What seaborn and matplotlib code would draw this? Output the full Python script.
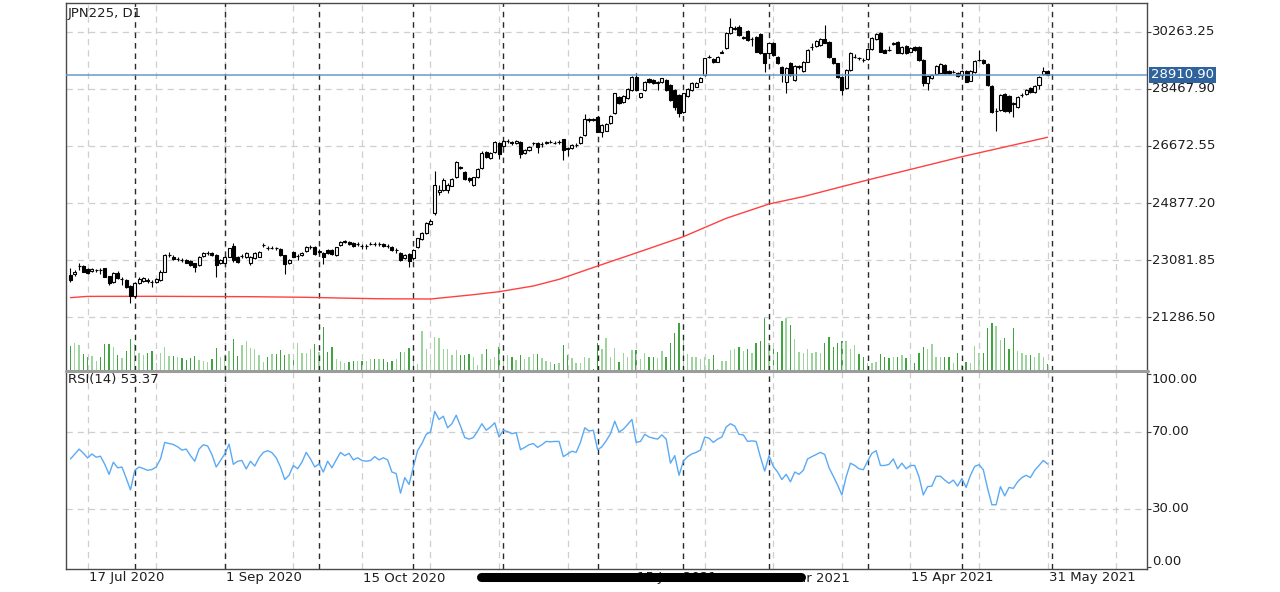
import matplotlib
matplotlib.use("Agg")
import matplotlib.pyplot as plt
import matplotlib.transforms as mtransforms
from matplotlib.lines import Line2D
import numpy as np
import pandas as pd
import seaborn as sns

# ---------------- data ----------------
symbol_title = "JPN225, D1"
rsi_title = "RSI(14) 53.37"
last_price = 28910.90

open_ = [22616,22637,22900,22900,22795,22742,22770,22775,22826,22585,
         22407,22690,22480,22460,22270,21957,22376,22438,22450,22410,
         22410,22460,22721,23245,23193,23110,23100,23088,23067,22985,
         22930,23214,23300,23297,23245,22983,23004,23193,23528,23193,
         23210,23193,23000,23140,23193,23560,23460,23455,23460,23420,
         23245,22983,23350,23210,23245,23380,23500,23496,23350,23300,
         23400,23402,23245,23560,23660,23660,23620,23580,23530,23530,
         23590,23600,23590,23590,23530,23510,23400,23298,23140,23270,
         23140,23500,23750,23926,24220,24555,25240,25290,25300,25420,
         25690,26010,25864,25660,25445,25690,25970,26490,26280,26470,
         26775,26670,26830,26790,26760,26810,26440,26545,26750,26750,
         26720,26750,26800,26780,26790,26880,26600,26600,26700,26754,
         27016,27500,27510,27571,27121,27152,27383,27697,28200,28064,
         28168,28430,28849,28200,28430,28765,28744,28661,28692,28744,
         28587,28430,28273,27749,28242,28430,28535,28692,28902,29470,
         29394,29320,29603,29740,30232,30360,30420,30054,30295,30022,
         30106,30190,29582,29603,29897,29478,29163,28692,29289,28744,
         29160,29038,29320,29770,29813,29834,30022,29950,29425,29268,
         28849,28482,29058,29470,29430,29380,29394,29708,30022,30232,
         29687,29690,29890,29950,29582,29813,29635,29770,29792,29373,
         28640,28797,28933,28975,29215,29038,29000,28975,28900,29038,
         28722,29006,29370,29373,29247,28556,27760,27802,28304,28242,
         28010,27907,28270,28304,28483,28378,28587,28920,29027]
high_ = [22826,22780,23004,22930,22830,22830,22820,22830,22850,22600,
         22700,22750,22560,22480,22300,22400,22540,22560,22520,22450,
         22520,22760,23280,23330,23250,23180,23160,23120,23100,23000,
         23200,23340,23380,23330,23270,23120,23200,23480,23612,23220,
         23280,23330,23220,23330,23380,23620,23520,23520,23510,23450,
         23260,23120,23380,23270,23330,23540,23560,23520,23420,23330,
         23420,23430,23500,23700,23720,23690,23650,23650,23580,23590,
         23660,23660,23650,23620,23580,23540,23450,23330,23270,23300,
         23430,23790,23960,24280,24370,25895,25450,25650,25500,25660,
         26200,26050,25880,25690,25700,25980,26500,26520,26480,26820,
         26800,26870,26890,26840,26860,26830,26570,26660,26800,26790,
         26790,26840,26860,26830,26850,26900,26650,26730,26760,26970,
         27676,27560,27560,27600,27360,27400,27640,28350,28230,28270,
         28490,28880,28954,28350,28720,28800,28780,28720,28820,28770,
         28620,28450,28300,28350,28490,28670,28690,28830,29450,29530,
         29420,29500,29687,30240,30682,30440,30473,30140,30320,30080,
         30130,30210,29600,29950,29930,29500,29190,29140,29320,29230,
         29220,29350,29710,29897,30010,30050,30473,29970,29450,29290,
         28870,29080,29630,29550,29480,29430,29730,30080,30220,30260,
         29720,29800,29950,29970,29820,29840,29770,29800,29810,29390,
         28900,28930,29210,29280,29240,29060,29060,29000,29070,29060,
         29070,29380,29687,29400,29270,28600,27850,28300,28330,28270,
         28060,28230,28330,28460,28510,28580,28870,29140,29060]
low_ = [22407,22600,22774,22700,22640,22700,22720,22650,22540,22300,
        22380,22480,22300,22200,21726,21900,22330,22400,22380,22250,
        22380,22430,22700,23180,23080,23060,23040,22980,22900,22720,
        22900,23180,23250,23200,22564,22960,22980,23170,23035,23000,
        23160,23160,22930,23120,23170,23500,23400,23420,23400,23220,
        22650,22950,23170,23100,23220,23350,23440,23250,23280,22960,
        23270,23250,23220,23540,23610,23560,23500,23530,23420,23440,
        23550,23540,23540,23500,23450,23380,23300,23060,23110,22878,
        23100,23470,23730,23900,24180,24500,25130,25250,25200,25400,
        25670,25950,25600,25540,25400,25670,25950,26280,26260,26450,
        26250,26640,26760,26700,26730,26300,26420,26520,26700,26440,
        26650,26720,26760,26730,26740,26230,26360,26570,26650,26730,
        26990,27440,27450,27100,26964,27130,27360,27680,28000,28030,
        28140,28400,28400,28170,28400,28660,28630,28430,28660,28400,
        28090,27802,27592,27720,28220,28400,28510,28670,28880,29420,
        29290,29300,29580,29720,30200,30300,30130,30030,29980,29800,
        29610,29560,29006,29580,29500,29260,28692,28325,28870,28720,
        29100,29010,29300,29700,29790,29800,29900,29450,29240,28820,
        28273,28450,29030,29420,29370,29320,29370,29690,30000,29610,
        29580,29640,29840,29580,29560,29560,29610,29660,29350,28556,
        28430,28770,28910,28950,28930,28930,28950,28840,28870,28670,
        28700,28980,29340,29240,28560,27720,27152,27780,27750,27700,
        27592,27880,28220,28280,28350,28350,28450,28900,28890]
close_ = [22460,22721,22910,22721,22669,22795,22780,22770,22564,22355,
          22669,22512,22500,22250,21957,22355,22480,22512,22440,22400,
          22480,22721,23245,23260,23110,23120,23090,23004,22930,22878,
          23170,23297,23310,23245,22930,23088,23170,23455,23088,23035,
          23220,23297,23193,23297,23350,23570,23455,23460,23450,23245,
          22960,23088,23193,23220,23297,23507,23510,23276,23380,23190,
          23300,23276,23486,23664,23670,23590,23530,23590,23520,23540,
          23600,23590,23600,23530,23520,23402,23410,23088,23240,23060,
          23402,23769,23926,24260,24314,25445,25290,25602,25445,25630,
          26178,25990,25620,25600,25686,25950,26460,26310,26440,26785,
          26420,26840,26840,26780,26830,26420,26545,26630,26760,26650,
          26730,26810,26810,26770,26800,26545,26590,26702,26710,26943,
          27508,27510,27500,27121,27330,27362,27613,28325,28032,28242,
          28462,28849,28430,28325,28692,28692,28661,28670,28797,28430,
          28116,27907,27697,28325,28462,28640,28661,28797,29425,29478,
          29320,29478,29635,30211,30420,30368,30159,30106,30001,30030,
          29635,29582,29268,29897,29530,29289,28954,29111,28902,29200,
          29170,29320,29687,29780,29980,30022,29918,29478,29268,28849,
          28430,29058,29603,29480,29425,29375,29708,30054,30190,29635,
          29603,29687,29900,29603,29792,29582,29740,29687,29373,28640,
          28870,28902,29185,29247,28954,28954,29010,28870,29038,28692,
          29038,29352,29380,29268,28587,27749,27770,28273,27780,27780,
          28000,28200,28280,28430,28378,28556,28849,29027,28911]
volume = [25,27.7,25.7,17,14.3,15,10.3,13.7,27,27,
          24.3,16,12.7,20.3,31.7,27,17.7,16,17.7,20.3,
          7.7,18.3,24.3,15,15,13.7,12.7,11,12.7,15,
          11,10,9.3,11.7,23.3,13.7,16,20.3,31.7,15,
          26,30.3,22.7,21.7,16,9.3,14.3,17,17,21,
          16,17,15,27.7,18.5,18,21.7,27,18.7,44.3,
          18.7,24.3,11.7,10.3,7.7,9,10.3,10.3,10.3,10.3,
          11.7,11.7,11.7,11.7,9,10.3,11.7,19,19,23.3,
          11.7,7,40.3,21.7,14.3,34.3,33,21.7,22.3,15.7,
          21,15.7,15.7,17,14.3,5.7,17,22.3,12.3,13.7,
          23.7,16.3,15.7,14.3,11,15.7,12.3,14.3,17,17,
          13,9.7,9,7,8.3,26,16,12.7,7.7,8.3,
          14.3,12.7,1.7,28.3,21.7,32.7,14.3,22.7,9.3,18.3,
          14.3,21,21,11.7,17.7,13.7,14.3,12.7,20.3,13.7,
          27.7,38.3,47.7,34.3,17,14.3,14.3,11.7,14.3,11.7,
          16,1.7,10.3,10.3,21,21.7,23.7,20.3,21.7,17.7,
          27.7,30,52.7,27.7,27,19.3,50.3,52.7,46,31.7,
          19.3,17.7,21.7,18.3,19.3,17.7,27.7,34.3,24.3,28.3,
          30.3,30,21.7,26,17,14.3,8.3,7.7,9.3,17,
          14.3,12.7,13.7,14.3,16,12.7,11,8.3,17.7,24.3,
          21.7,27,14.3,14.3,14.3,14.3,8.3,17.7,6,9.3,
          7.7,25,17.7,17.7,42.7,47.7,45,31,32.7,21.7,
          42.7,20.3,18.3,16,16,13.7,17.7,14.3,7]
rsi = [56,58.5,61.1,59,56.5,58.6,56.9,57.4,53.2,48,
       54.3,51.4,51.8,46,39.9,50.1,51.8,51,50.1,50.5,
       51.8,56,64.6,64,63.5,62.3,60.6,61.1,57.7,54.8,
       61.1,63.4,62.7,58.3,51.8,55.2,58.6,63.7,53.2,54.8,
       55.2,50.8,54.8,52.3,56.6,59.4,60.3,59.3,56.6,51.8,
       45.3,47.5,52.6,50.9,54.3,59.4,56,51.8,53.5,49.2,
       54.8,51.4,55.5,59.4,57.7,58.9,55.5,56.6,55.2,54.8,
       55.2,57.2,55.5,56.6,55.5,49.2,48.4,38.2,46.3,42.8,
       51.8,60.3,64,68.8,70,80.7,76.5,78.2,72.2,74.3,
       78.7,73.1,67.1,66.3,67.1,70.5,74.3,70.9,72.6,74.8,
       67.4,70.9,70.2,69.1,69.7,60.8,62,63.4,64,62,
       63.4,65.1,64.9,65.1,65.1,57.2,58.6,60,59.4,64.6,
       72.2,70.5,70.9,60.8,62.3,65.4,69.1,75.6,70,71.4,
       73.9,76.5,64.6,65.1,68.8,67.4,66.8,66.3,68.5,66.3,
       53.8,57.7,47.5,54.8,57.2,58.6,59.4,60.6,67.4,66.8,
       64.6,66.3,67.4,72.6,74.3,73.1,68.8,68.5,65.1,65.4,
       65.1,56.9,49.7,57.7,52.1,49.2,45.3,48,44.1,49.2,
       48,50.1,56,57.2,58.3,59.4,58.3,51.4,47,42.4,
       37.3,46.7,53.8,52.6,50.9,50.4,54.8,58.9,60.3,52.6,
       52.6,53.2,56,50.9,53.8,50.9,52.6,52.6,46.7,37.3,
       41.6,41.9,47,47,45,43.3,45,41.9,45.8,41.2,
       47.5,52.1,53,50.4,40.7,32.2,32.2,41.6,36.8,41.2,
       40.7,44.1,46.3,47.5,46.3,50.1,52.6,55.2,53.37]
# moving average (red line), read at a set of bars
ma_bar = [0, 4, 20, 42, 55, 62, 72, 84, 88, 94, 100, 108, 114, 123, 134, 143,
          153, 163, 171, 186, 208, 228]
ma_val = [21905, 21945, 21947, 21935, 21916, 21895, 21870, 21862, 21916, 21998,
          22092, 22271, 22480, 22899, 23402, 23820, 24398, 24848, 25080, 25602,
          26334, 26944]

price_levels = [21286.50, 23081.85, 24877.20, 26672.55, 28467.90, 30263.25]
rsi_levels = [0, 30, 70, 100]
date_bar = [4, 36, 68, 100, 132, 164, 196, 228]
date_text = ["17 Jul 2020", "1 Sep 2020", "15 Oct 2020", "30 Nov 2020",
             "15 Jan 2021", "2 Mar 2021", "15 Apr 2021", "31 May 2021"]
grid_bar = [4, 20, 36, 52, 68, 84, 100, 116, 132, 148, 164, 180, 196, 212, 228, 244]
month_bar = [15, 36, 58, 80, 101, 123, 143, 163, 186, 208, 229]

n = len(close_)
idx = np.arange(n)
df = pd.DataFrame({"bar": idx, "open": open_, "high": high_, "low": low_,
                   "close": close_, "volume": volume, "rsi": rsi})
df["dir"] = np.where(df["close"] >= df["open"], "bull", "bear")
ma_df = pd.DataFrame({"bar": ma_bar, "ma": ma_val})

# ---------------- figure ----------------
sns.set_theme(style="white")
plt.rcParams['font.family'] = ['DejaVu Sans']
TXT = "#1e1e1e"
FS = 9.5

W, H = 1280, 592
fig = plt.figure(figsize=(W / 100, H / 100), dpi=100)
fig.patch.set_facecolor("white")


def fx(px):
    return px / W


def fy(py):
    return 1 - py / H


L, R = 66, 1147
ax = fig.add_axes([fx(L), fy(371), fx(R) - fx(L), fy(3) - fy(371)])
axr = fig.add_axes([fx(L), fy(569), fx(R) - fx(L), fy(371) - fy(569)])

XL = (-1.05, 251.2)
YL = (19600, 31164)
RL = (-1.2, 101.7)

GRID = dict(color="#cfcfcf", lw=0.9, ls=(0, (5, 4)), zorder=0)
MONTH = dict(color="#2a2a2a", lw=1.0, ls=(0, (4, 3.5)), zorder=1)

for a in (ax, axr):
    for g in grid_bar:
        a.axvline(g, **GRID)
    for m in month_bar:
        a.axvline(m, **MONTH)
for p in price_levels:
    ax.axhline(p, **GRID)
for r in (30, 70):
    axr.axhline(r, **GRID)

# volume on a twin axis at the bottom of the main panel
axv = ax.twinx()
sns.barplot(data=df, x="bar", y="volume", hue="dir", native_scale=True,
            palette={"bear": "#3fa33f", "bull": "#9dd39d"}, dodge=False,
            width=0.32, errorbar=None, legend=False, ax=axv,
            linewidth=0, saturation=1)
axv.set_ylim(0, 368)
axv.set_yticks([])
axv.set_ylabel("")
axv.set_xlabel("")
for s in axv.spines.values():
    s.set_visible(False)
axv.set_zorder(ax.get_zorder() - 1)
ax.patch.set_visible(False)

# moving average
sns.lineplot(data=ma_df, x="bar", y="ma", ax=ax, color="#ff4040", lw=1.0,
             estimator=None, zorder=2)

# candles
up = df["close"] >= df["open"]
ax.vlines(df["bar"], df["low"], df["high"], color="black", lw=0.8, zorder=3)
body_lo = np.minimum(df["open"], df["close"])
body_h = np.maximum(np.abs(df["close"] - df["open"]), 6)
ax.bar(df["bar"], body_h, bottom=body_lo, width=0.72,
       color=np.where(up, "white", "black"), edgecolor="black", lw=0.8, zorder=4)

# current price line
ax.axhline(last_price, color="#6b98c9", lw=1.1, zorder=5)

# RSI
sns.lineplot(data=df, x="bar", y="rsi", ax=axr, color="#5aaaf5", lw=1.0,
             estimator=None, zorder=3)

# axes cosmetics
for a in (ax, axr, axv):
    a.set_xlim(*XL)
ax.set_ylim(*YL)
axr.set_ylim(*RL)
for a in (ax, axr):
    a.set_xlabel("")
    a.set_ylabel("")
    a.set_xticks([])
    a.yaxis.tick_right()
    a.tick_params(axis="y", length=3, width=0.8, color="#444444", labelright=False,
                  labelleft=False, right=True, left=False)
    for s in a.spines.values():
        s.set_color("#4a4a4a")
        s.set_linewidth(1.0)
ax.set_yticks(price_levels)
axr.set_yticks(rsi_levels)
ax.spines["bottom"].set_visible(False)
axr.spines["top"].set_visible(False)
ax.set_facecolor("none")
axr.set_facecolor("white")

# right-side labels
bt = mtransforms.blended_transform_factory(ax.transAxes, ax.transData)
for p in price_levels:
    ax.text(1.0 + 5 / (R - L), p, f"{p:.2f}", transform=bt, ha="left",
            va="center", fontsize=FS, color=TXT)
ax.text(1.0 + 4 / (R - L), last_price, f"{last_price:.2f}", transform=bt,
        ha="left", va="center", fontsize=FS, color="white", zorder=10,
        bbox=dict(boxstyle="square,pad=0.12", fc="#2f639d", ec="none"))

btr = mtransforms.blended_transform_factory(axr.transAxes, axr.transData)
rsi_offsets = {100: -5.5, 70: 0, 30: 0, 0: 5.5}
for r in rsi_levels:
    axr.annotate(f"{r:.2f}", xy=(1.0, r), xycoords=btr,
                 xytext=(5 * 0.72, rsi_offsets[r] * 0.72), textcoords="offset points",
                 ha="left", va="center", fontsize=FS, color=TXT, annotation_clip=False)

# titles inside panels
ax.annotate(symbol_title, xy=(0, 1), xycoords="axes fraction",
            xytext=(2 * 0.72, -11 * 0.72), textcoords="offset points",
            ha="left", va="center", fontsize=FS, color=TXT)
axr.annotate(rsi_title, xy=(0, 1), xycoords="axes fraction",
             xytext=(2 * 0.72, -9 * 0.72), textcoords="offset points",
             ha="left", va="center", fontsize=FS, color=TXT)

# date labels under the RSI panel
for b, t in zip(date_bar, date_text):
    axr.annotate(t, xy=(b, 0), xycoords=("data", "axes fraction"),
                 xytext=(1 * 0.72, -9 * 0.72), textcoords="offset points",
                 ha="left", va="center", fontsize=FS, color=TXT, annotation_clip=False)

# panel separator
fig.add_artist(Line2D([fx(L), fx(R + 1)], [fy(371), fy(371)], color="#9c9c9c",
                      lw=2.2, transform=fig.transFigure))
# overlaid scroll indicator from the screenshot
fig.add_artist(Line2D([fx(481), fx(801)], [fy(577), fy(577)], color="black",
                      lw=6.5, solid_capstyle="round", transform=fig.transFigure,
                      zorder=20))

fig.savefig("out.png", dpi=100, facecolor="white")
